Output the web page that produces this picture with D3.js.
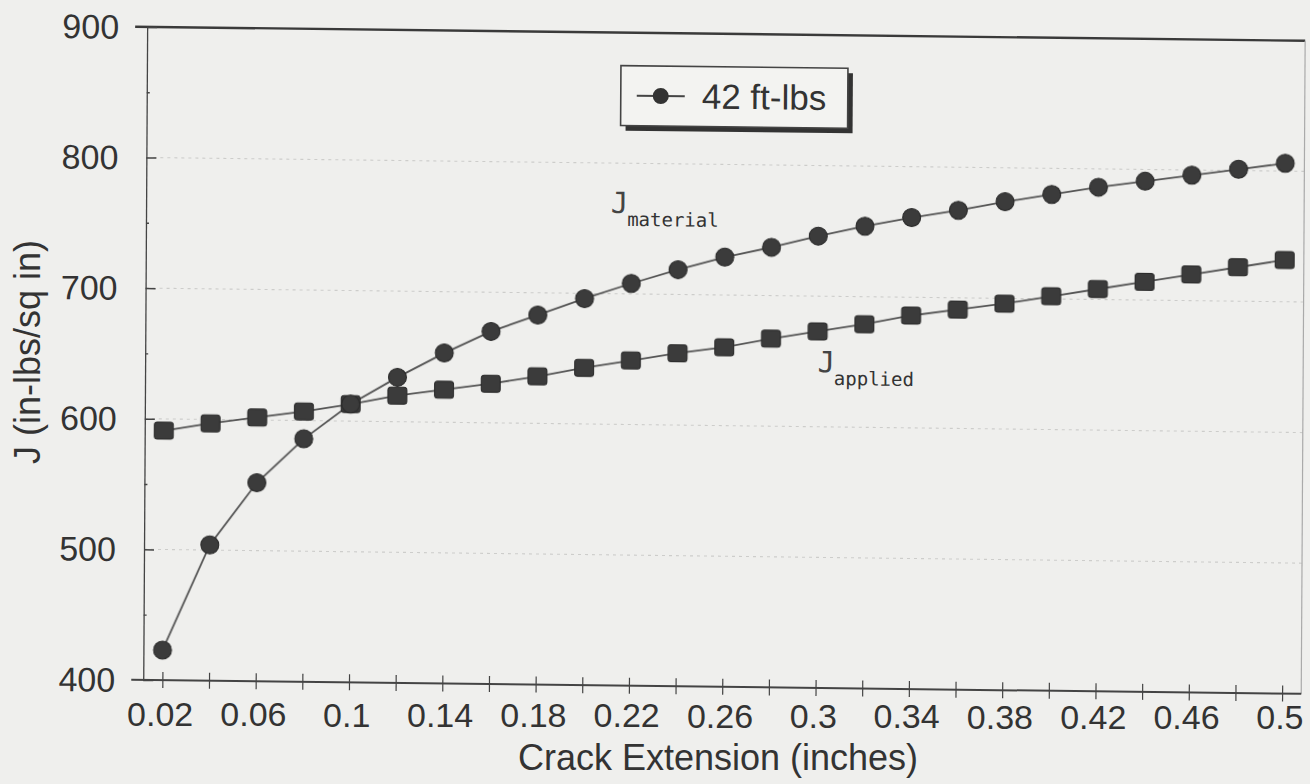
<!DOCTYPE html>
<html>
<head>
<meta charset="utf-8">
<script src="https://cdn.jsdelivr.net/npm/d3@7"></script>
<style>
  body { margin: 0; background: #efefed; }
  svg { display: block; }
  .axis text { font-family: "Liberation Sans", Arial, sans-serif; fill: #333; }
  .axis path, .axis line { stroke: #444; }
</style>
</head>
<body>
<svg id="chart"></svg>
<script>
// crack extension (inches)
const crack = [0.02, 0.04, 0.06, 0.08, 0.1, 0.12, 0.14, 0.16, 0.18, 0.2, 0.22, 0.24, 0.26,
  0.28, 0.3, 0.32, 0.34, 0.36, 0.38, 0.4, 0.42, 0.44, 0.46, 0.48, 0.5];
// J material (circles)
const jMaterial = [423, 504, 552, 586, 613, 634, 653, 670, 683, 696, 708, 719, 729,
  737, 746, 754, 761, 767, 774, 780, 786, 791, 796, 801, 806];
// J applied (squares)
const jApplied = [591, 597, 602, 607, 613, 620, 625, 630, 636, 643, 649, 655, 660,
  667, 673, 679, 686, 691, 696, 702, 708, 714, 720, 726, 732];
const xLabels = [0.02, 0.06, 0.1, 0.14, 0.18, 0.22, 0.26, 0.3, 0.34, 0.38, 0.42, 0.46, 0.5];
const yTicks = [400, 500, 600, 700, 800, 900];
const yMinor = [450, 550, 650, 750, 850];
const gridVals = [500, 600, 700, 800];
const legendLabel = "42 ft-lbs";
const annotations = [
  { main: "J", sub: "material", x: 0.211, y: 762 },
  { main: "J", sub: "applied", x: 0.30, y: 642 }
];

const W = 1310, H = 784;
const svg = d3.select("#chart").attr("width", W).attr("height", H);

const defs = svg.append("defs");
defs.append("filter").attr("id", "soft")
  .append("feGaussianBlur").attr("stdDeviation", 0.7);

// scanned page is slightly tilted
const chart = svg.append("g")
  .attr("transform", "translate(655,392) matrix(1,0.012,-0.006,1,0,0) translate(-655,-392)");

const plotL = 145, plotR = 1303, plotT = 33, plotB = 686;

const x = d3.scalePoint()
  .domain(crack)
  .range([plotL, plotR])
  .padding(0.41);

const y = d3.scaleLinear()
  .domain([400, 900])
  .range([plotB, plotT]);

// grid
chart.append("g")
  .selectAll("line")
  .data(gridVals)
  .join("line")
  .attr("x1", plotL).attr("x2", plotR)
  .attr("y1", d => y(d)).attr("y2", d => y(d))
  .attr("stroke", "#cdcdcb")
  .attr("stroke-width", 1.1)
  .attr("stroke-dasharray", "3,4");

// frame: top and right
chart.append("line")
  .attr("x1", plotL - 12).attr("x2", plotR)
  .attr("y1", y(900)).attr("y2", y(900))
  .attr("stroke", "#3a3a3a").attr("stroke-width", 2.4);
chart.append("line")
  .attr("x1", plotR).attr("x2", plotR)
  .attr("y1", y(900)).attr("y2", y(400))
  .attr("stroke", "#aaa").attr("stroke-width", 1.2);

// y axis
const yAxis = chart.append("g")
  .attr("class", "axis")
  .attr("transform", `translate(${plotL},0)`)
  .call(d3.axisLeft(y).tickValues(yTicks).tickSize(12).tickSizeOuter(0).tickPadding(16));
yAxis.select(".domain").attr("stroke-width", 1.3);
yAxis.selectAll(".tick line").attr("x2", 10).attr("stroke-width", 1.5);
yAxis.selectAll(".tick text").attr("font-size", 34).attr("dy", "0.34em");

chart.append("g")
  .attr("class", "axis")
  .attr("transform", `translate(${plotL},0)`)
  .call(d3.axisLeft(y).tickValues(yMinor).tickSize(4).tickFormat(""))
  .call(g => g.select(".domain").remove())
  .selectAll(".tick line").attr("x2", 3).attr("stroke-width", 1.4);

// x axis (ticks on the tilted page, labels drawn level below)
const xAxis = chart.append("g")
  .attr("class", "axis")
  .attr("transform", `translate(0,${plotB})`)
  .call(d3.axisBottom(x).tickSize(8).tickSizeOuter(0).tickFormat(""));
xAxis.select(".domain").attr("stroke-width", 2).attr("d", `M${plotL - 12},0H${plotR}`);
xAxis.selectAll(".tick line").attr("y1", -8).attr("stroke-width", 1.2);

svg.append("g")
  .attr("class", "axis")
  .selectAll("text")
  .data(xLabels)
  .join("text")
  .attr("x", d => x(d) - 4)
  .attr("y", d => 726 + (x(d) - plotL) * 0.003)
  .attr("text-anchor", "middle")
  .attr("font-size", 34)
  .text(d => String(d));

// axis titles
svg.append("text")
  .attr("x", 718).attr("y", 770)
  .attr("text-anchor", "middle")
  .attr("font-family", "Liberation Sans, Arial, sans-serif")
  .attr("font-size", 36)
  .attr("fill", "#333")
  .text("Crack Extension (inches)");

svg.append("text")
  .attr("transform", "translate(40,352) rotate(-90)")
  .attr("text-anchor", "middle")
  .attr("font-family", "Liberation Sans, Arial, sans-serif")
  .attr("font-size", 36)
  .attr("fill", "#333")
  .text("J (in-lbs/sq in)");

// series
const line = d3.line()
  .x((d, i) => x(crack[i]))
  .y(d => y(d));

const series = chart.append("g").attr("filter", "url(#soft)");

series.append("path")
  .datum(jMaterial)
  .attr("fill", "none")
  .attr("stroke", "#555")
  .attr("stroke-width", 1.8)
  .attr("d", line);

series.append("path")
  .datum(jApplied)
  .attr("fill", "none")
  .attr("stroke", "#555")
  .attr("stroke-width", 1.8)
  .attr("d", line);

series.append("g")
  .selectAll("rect")
  .data(jApplied)
  .join("rect")
  .attr("x", (d, i) => x(crack[i]) - 9.5)
  .attr("y", d => y(d) - 8.5)
  .attr("width", 19)
  .attr("height", 17)
  .attr("rx", 3)
  .attr("fill", "#3a3a3a")
  .attr("stroke", "#2a2a2a")
  .attr("stroke-width", 1);

series.append("g")
  .selectAll("circle")
  .data(jMaterial)
  .join("circle")
  .attr("cx", (d, i) => x(crack[i]))
  .attr("cy", d => y(d))
  .attr("r", 9)
  .attr("fill", "#3a3a3a")
  .attr("stroke", "#2a2a2a")
  .attr("stroke-width", 1);

// annotations J_material, J_applied
annotations.forEach(a => {
  const t = chart.append("text")
    .attr("x", x.step() * (a.x - crack[0]) / 0.02 + x(crack[0]))
    .attr("y", y(a.y))
    .attr("font-family", "DejaVu Sans Mono, Liberation Mono, monospace")
    .attr("fill", "#444");
  t.append("tspan").attr("font-size", 29).attr("font-weight", 300).text(a.main);
  t.append("tspan").attr("font-size", 19).attr("dx", -1).attr("dy", 13).attr("fill", "#333").text(a.sub);
});

// legend
const leg = chart.append("g").attr("transform", "translate(619,66)");
leg.append("rect")
  .attr("x", 5).attr("y", 5)
  .attr("width", 227).attr("height", 60)
  .attr("fill", "#333");
leg.append("rect")
  .attr("width", 227).attr("height", 60)
  .attr("fill", "#f3f3f1")
  .attr("stroke", "#444")
  .attr("stroke-width", 1.6);
leg.append("line")
  .attr("x1", 16).attr("x2", 64)
  .attr("y1", 30).attr("y2", 30)
  .attr("stroke", "#444").attr("stroke-width", 2);
leg.append("circle")
  .attr("cx", 40).attr("cy", 30).attr("r", 8)
  .attr("fill", "#333");
leg.append("text")
  .attr("x", 81).attr("y", 42)
  .attr("font-family", "Liberation Sans, Arial, sans-serif")
  .attr("font-size", 35)
  .attr("fill", "#333")
  .text(legendLabel);
</script>
</body>
</html>
